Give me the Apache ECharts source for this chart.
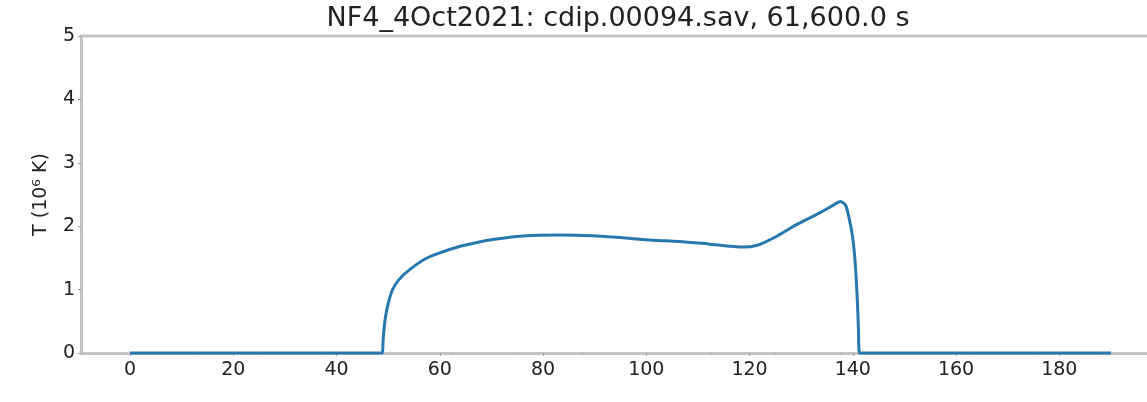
<!DOCTYPE html>
<html>
<head>
<meta charset="utf-8">
<script src="https://cdn.jsdelivr.net/npm/echarts@6/dist/echarts.min.js"></script>
<style>
  html, body { margin: 0; padding: 0; background: #fff; overflow: hidden; }
  /* plot area continues past the right edge of the window */
  #chart { width: 1210px; height: 402px; }
</style>
</head>
<body>
<div id="chart"></div>
<script>
// Position along the domain and temperature (10^6 K)
const positions = [
  0, 10, 20, 30, 40, 48.9,
  49.0, 49.2, 49.5, 50.0, 50.8, 52.0, 54.1, 57.3, 60.0, 63.8, 67.0, 70.2, 76.7,
  83.1, 89.6, 95.0, 101.2, 106.4, 112.0, 118.7, 121.5, 125.0, 129.0, 133.6,
  136.0, 137.6, 138.6, 139.3, 139.9, 140.3, 140.6, 140.9, 141.1, 141.3,
  150, 160, 170, 180, 190
];
const temperature = [
  0, 0, 0, 0, 0, 0,
  0.18, 0.38, 0.58, 0.78, 0.99, 1.15, 1.31, 1.49, 1.58, 1.68, 1.74, 1.79, 1.85,
  1.86, 1.85, 1.82, 1.78, 1.76, 1.72, 1.67, 1.70, 1.83, 2.02, 2.21,
  2.32, 2.39, 2.33, 2.12, 1.86, 1.58, 1.25, 0.79, 0.35, 0,
  0, 0, 0, 0, 0
];
const xTicks = [0, 20, 40, 60, 80, 100, 120, 140, 160, 180];
const yTicks = [0, 1, 2, 3, 4, 5];
const titleText = 'NF4_4Oct2021: cdip.00094.sav, 61,600.0 s';
const yName = 'T (10\u2076 K)';

const font = "'DejaVu Sans', sans-serif";
const spine = '#c4c4c4';

const chart = echarts.init(document.getElementById('chart'), null, { renderer: 'canvas' });
chart.setOption({
  animation: false,
  backgroundColor: '#ffffff',
  title: {
    text: titleText,
    left: 613, top: 0,
    textAlign: 'center',
    textStyle: { fontFamily: font, fontSize: 27, fontWeight: 'normal', color: '#222' }
  },
  grid: { left: 81, top: 36, right: 50, bottom: 49 },
  xAxis: {
    type: 'value',
    min: -9.5, max: 199.5,
    axisLine: { show: true, onZero: false, lineStyle: { color: spine, width: 3 } },
    axisTick: { show: true, length: 3, lineStyle: { color: '#999' },
      customValues: xTicks },
    minorTick: { show: true, splitNumber: 4, length: 2, lineStyle: { color: '#aaa' } },
    axisLabel: {
      customValues: xTicks,
      fontFamily: font, fontSize: 19, color: '#222', margin: 8
    },
    splitLine: { show: false }
  },
  yAxis: {
    type: 'value',
    min: 0, max: 5, interval: 1,
    name: yName,
    nameLocation: 'middle',
    nameGap: 30,
    nameTextStyle: { fontFamily: font, fontSize: 19, color: '#222' },
    axisLine: { show: true, onZero: false, lineStyle: { color: spine, width: 3 } },
    axisTick: { show: true, length: 3, lineStyle: { color: '#999' } },
    axisLabel: {
      formatter: v => yTicks.includes(v) ? String(v) : '',
      fontFamily: font, fontSize: 19, color: '#222', margin: 6
    },
    splitLine: { show: false }
  },
  graphic: [{
    // top frame line
    type: 'line',
    shape: { x1: 80, y1: 36, x2: 1210, y2: 36 },
    style: { stroke: spine, lineWidth: 3 }
  }],
  series: [{
    type: 'line',
    data: positions.map((x, i) => [x, temperature[i]]),
    showSymbol: false,
    smooth: 0.25,
    lineStyle: { color: '#2878b0', width: 3 },
    clip: false
  }]
});
</script>
</body>
</html>
